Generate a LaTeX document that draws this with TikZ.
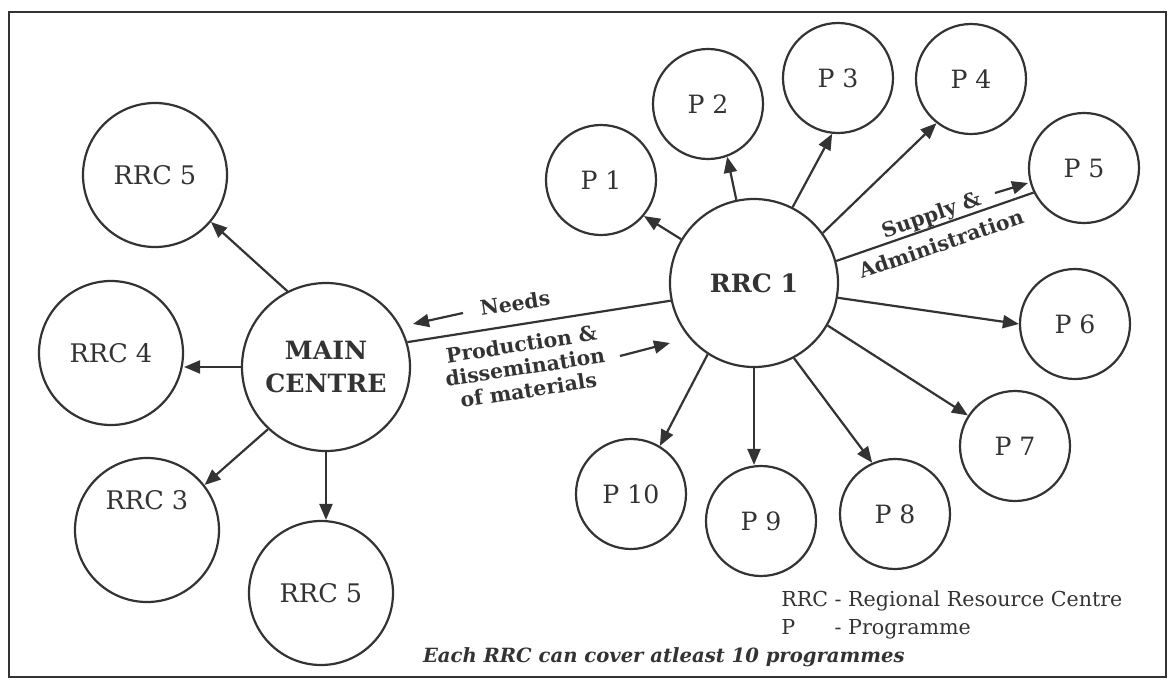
\documentclass[tikz,border=0pt]{standalone}
\usepackage{fontspec}
\setmainfont{DejaVu Serif}
\usetikzlibrary{arrows.meta}
\definecolor{ink}{HTML}{333333}
\begin{document}
\begin{tikzpicture}[x=0.5pt,y=-0.5pt,
  every node/.style={text=ink},
  bubble/.style={circle,draw=ink,line width=1.1pt,inner sep=0pt},
  big/.style={bubble,minimum size=84pt,align=center,
    font=\fontsize{12.6}{16.5}\selectfont\bfseries},
  rrcfont/.style={font=\fontsize{12.8}{15}\selectfont},
  rrc/.style={bubble,minimum size=72pt,rrcfont},
  prog/.style={bubble,minimum size=55pt,font=\fontsize{12.6}{15}\selectfont},
  link/.style={draw=ink,line width=1.1pt},
  flow/.style={link,-{Triangle[length=8pt,width=6.5pt]}},
  note/.style={align=center,font=\fontsize{10.2}{11.6}\selectfont\bfseries}]

% page and frame
\useasboundingbox (0,0) rectangle (1175,681);
\draw[draw=ink,line width=1.1pt] (9,12) rectangle (1166,677);

% main centre and its regional centres
\node[big]  (main) at (326,367) {MAIN\\CENTRE};
\node[rrc]  (rrcA) at (155,175) {RRC 5};
\node[rrc]  (rrcB) at (111,353) {RRC 4};
\node[rrc,label={[rrcfont,yshift=15pt]center:RRC 3}] (rrcC) at (147,530) {};
\node[rrc]  (rrcD) at (321,593) {RRC 5};

% regional resource centre and its programmes
\node[big]  (hub) at (754,283) {RRC 1};
\node[prog] (p1)  at (601,180) {P 1};
\node[prog] (p2)  at (708,104) {P 2};
\node[prog] (p3)  at (838,78)  {P 3};
\node[prog] (p4)  at (971,79)  {P 4};
\node[prog] (p5)  at (1084,168) {P 5};
\node[prog] (p6)  at (1075,324) {P 6};
\node[prog] (p7)  at (1015,446) {P 7};
\node[prog] (p8)  at (895,514) {P 8};
\node[prog] (p9)  at (761,521) {P 9};
\node[prog] (p10) at (631,494) {P 10};

% connectors from the main centre
\draw[flow] (main.117) -- (rrcA.-40);
\draw[flow] (main.west) -- (rrcB.east |- main.west);
\draw[flow] (main.227) -- (rrcC.38);
\draw[flow] (main.south) -- (main.south |- rrcD.north);
\draw[link] (main.17) -- (hub.192);

% connectors from RRC 1
\draw[flow] (hub.149) -- (p1.-40);
\draw[flow] (hub.102) -- (p2.-70);
\draw[flow] (hub.63)  -- (p3.264);
\draw[flow] (hub.36)  -- (p4.232);
\draw[link] (hub.15)  -- (p5.206);
\draw[flow] (hub.-10) -- (p6.180);
\draw[flow] (hub.-30) -- (p7.147);
\draw[flow] (hub.-62) -- (p8.114);
\draw[flow] (hub.south) -- (hub.south |- p9.north);
\draw[flow] (hub.237) -- (p10.59);

% flow labels with their direction arrows
\node[note,rotate=8.7] (needs) at (515,303) {Needs};
\coordinate (needsA) at (463,313);
\coordinate (needsB) at (413,324);
\draw[flow] (needsA) -- (needsB);

\node[note,rotate=8.7] (prod) at (525,367) {Production \&\\dissemination\\of materials};
\coordinate (prodA) at (620,356);
\coordinate (prodB) at (670,343);
\draw[flow] (prodA) -- (prodB);

\node[note,rotate=19,font=\fontsize{10.2}{15.5}\selectfont\bfseries] (supply) at (936,229) {Supply \&\\Administration};
\coordinate (supA) at (995,193);
\coordinate (supB) at (1028,183);
\draw[flow] (supA) -- (supB);

% key
\node[anchor=base west,inner sep=0pt,font=\fontsize{10.3}{14}\selectfont] (key) at (781,606)
  {\begin{tabular}[t]{@{}l@{\ }l@{}}RRC & - Regional Resource Centre\\ P & - Programme\end{tabular}};
\node[anchor=base east,inner sep=0pt,font=\fontsize{9.8}{13}\selectfont\bfseries\itshape] (caption) at (905,662)
  {Each RRC can cover atleast 10 programmes};
\end{tikzpicture}
\end{document}
